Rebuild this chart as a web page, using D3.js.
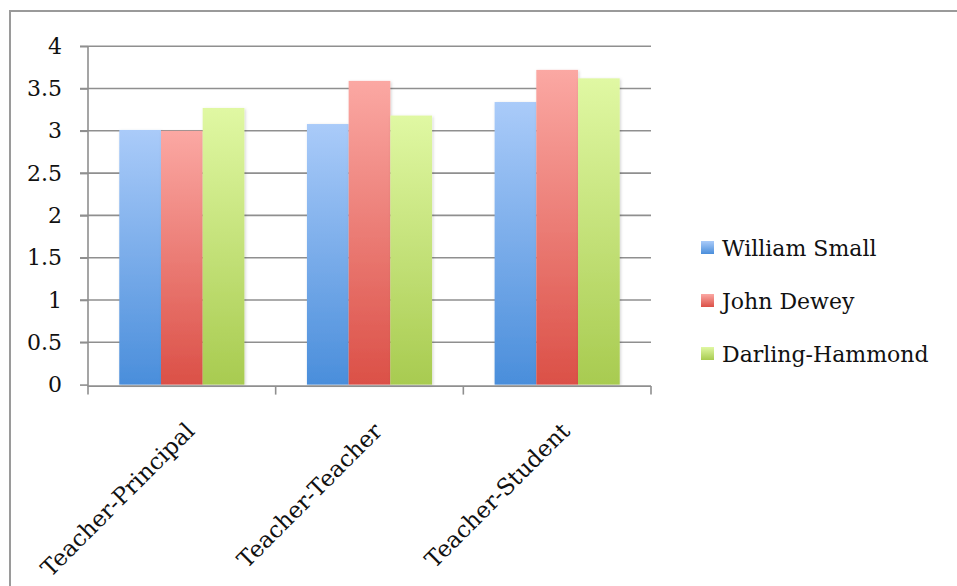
<!DOCTYPE html>
<html><head><meta charset="utf-8">
<script src="https://cdn.jsdelivr.net/npm/d3@7"></script>
<style>body{margin:0;background:#fff}svg{display:block}</style>
</head><body>
<svg id="c" width="957" height="586"></svg>
<script>
const categories = ["Teacher-Principal","Teacher-Teacher","Teacher-Student"];
const seriesNames = ["William Small","John Dewey","Darling-Hammond"];
const williamSmall = [3.01, 3.08, 3.34];
const johnDewey = [3.00, 3.59, 3.72];
const darlingHammond = [3.27, 3.18, 3.62];
const yTicks = [0,0.5,1,1.5,2,2.5,3,3.5,4];
const seriesValues = [williamSmall, johnDewey, darlingHammond];
const gradients = [["#aacbf9","#4a8edb"],["#fba8a3","#db5047"],["#e0f8a3","#a8cb50"]];

const svg = d3.select("#c");
const font = "DejaVu Serif";
const fs = 22;

// frame
svg.append("path").attr("d","M10,587 L10,11 L958,11").attr("fill","none").attr("stroke","#9a9a9a").attr("stroke-width",2);

const defs = svg.append("defs");
gradients.forEach((g,i)=>{
  const lg = defs.append("linearGradient").attr("id","g"+i).attr("x1",0).attr("y1",0).attr("x2",0).attr("y2",1);
  lg.append("stop").attr("offset","0%").attr("stop-color",g[0]);
  lg.append("stop").attr("offset","100%").attr("stop-color",g[1]);
});
const f = defs.append("filter").attr("id","sh").attr("x","-20%").attr("y","-20%").attr("width","140%").attr("height","140%");
f.append("feDropShadow").attr("dx",1).attr("dy",1).attr("stdDeviation",1.5).attr("flood-color","#000").attr("flood-opacity",0.18);

const pL = 88, pR = 651, pT = 46.2, pB = 384.6;
const x0 = d3.scaleBand().domain(categories).range([pL,pR]).paddingInner(0).paddingOuter(0);
const x1 = d3.scaleBand().domain(d3.range(3)).range([0,x0.bandwidth()]).paddingInner(0).paddingOuter(0.75);
const y = d3.scaleLinear().domain([0,4]).range([pB,pT]);

// gridlines
svg.append("g").selectAll("line").data(yTicks.filter(t=>t>0)).join("line")
  .attr("x1",pL-8).attr("x2",pR).attr("y1",d=>y(d)).attr("y2",d=>y(d))
  .attr("stroke","#8f8f8f").attr("stroke-width",1.6);

// y axis
const yAxis = svg.append("g").attr("transform",`translate(${pL},0)`)
  .call(d3.axisLeft(y).tickValues(yTicks).tickSize(8).tickPadding(18).tickFormat(d3.format("")));
yAxis.select(".domain").attr("stroke","#8f8f8f").attr("stroke-width",1.6).attr("d",`M0,${pT}V${pB+2}`);
yAxis.selectAll(".tick line").attr("stroke","#8f8f8f").attr("stroke-width",1.6);
yAxis.selectAll("text").attr("font-family",font).attr("font-size",fs).attr("fill","#111");

// bars
const groups = svg.append("g").selectAll("g").data(categories).join("g")
  .attr("transform",d=>`translate(${x0(d)},0)`);
groups.selectAll("rect").data((d,i)=>seriesValues.map((s,k)=>({k,v:s[i]}))).join("rect")
  .attr("x",d=>x1(d.k)).attr("width",x1.bandwidth())
  .attr("y",d=>y(d.v)).attr("height",d=>y(0)-y(d.v))
  .attr("fill",d=>`url(#g${d.k})`).attr("filter","url(#sh)");

// x axis
const xAxis = svg.append("g").attr("transform",`translate(0,${pB+1.5})`)
  .call(d3.axisBottom(x0).tickSize(0).tickFormat(""));
xAxis.select(".domain").attr("stroke","#8f8f8f").attr("stroke-width",1.6).attr("d",`M${pL},0H${pR}`);
xAxis.selectAll(".tick").remove();
const xt = [pL, ...categories.map(c=>x0(c)+x0.bandwidth())];
svg.append("g").selectAll("line").data(xt).join("line")
  .attr("x1",d=>d).attr("x2",d=>d).attr("y1",pB+1.5).attr("y2",pB+10)
  .attr("stroke","#8f8f8f").attr("stroke-width",1.6);

svg.append("g").selectAll("text").data(categories).join("text")
  .attr("transform",d=>`translate(${x0(d)+x0.bandwidth()/2+14},${pB+48}) rotate(-45)`)
  .attr("text-anchor","end").attr("font-family",font).attr("font-size",23).attr("fill","#111")
  .text(d=>d);

// legend
const lg = svg.append("g").selectAll("g").data(seriesNames).join("g")
  .attr("transform",(d,i)=>`translate(701,${248+i*53})`);
lg.append("rect").attr("x",0).attr("y",-7).attr("width",13).attr("height",13)
  .attr("fill",(d,i)=>`url(#g${i})`);
lg.append("text").attr("x",21).attr("y",0).attr("dy","0.35em")
  .attr("font-family",font).attr("font-size",fs).attr("fill","#111").text(d=>d);
</script>
</body></html>
